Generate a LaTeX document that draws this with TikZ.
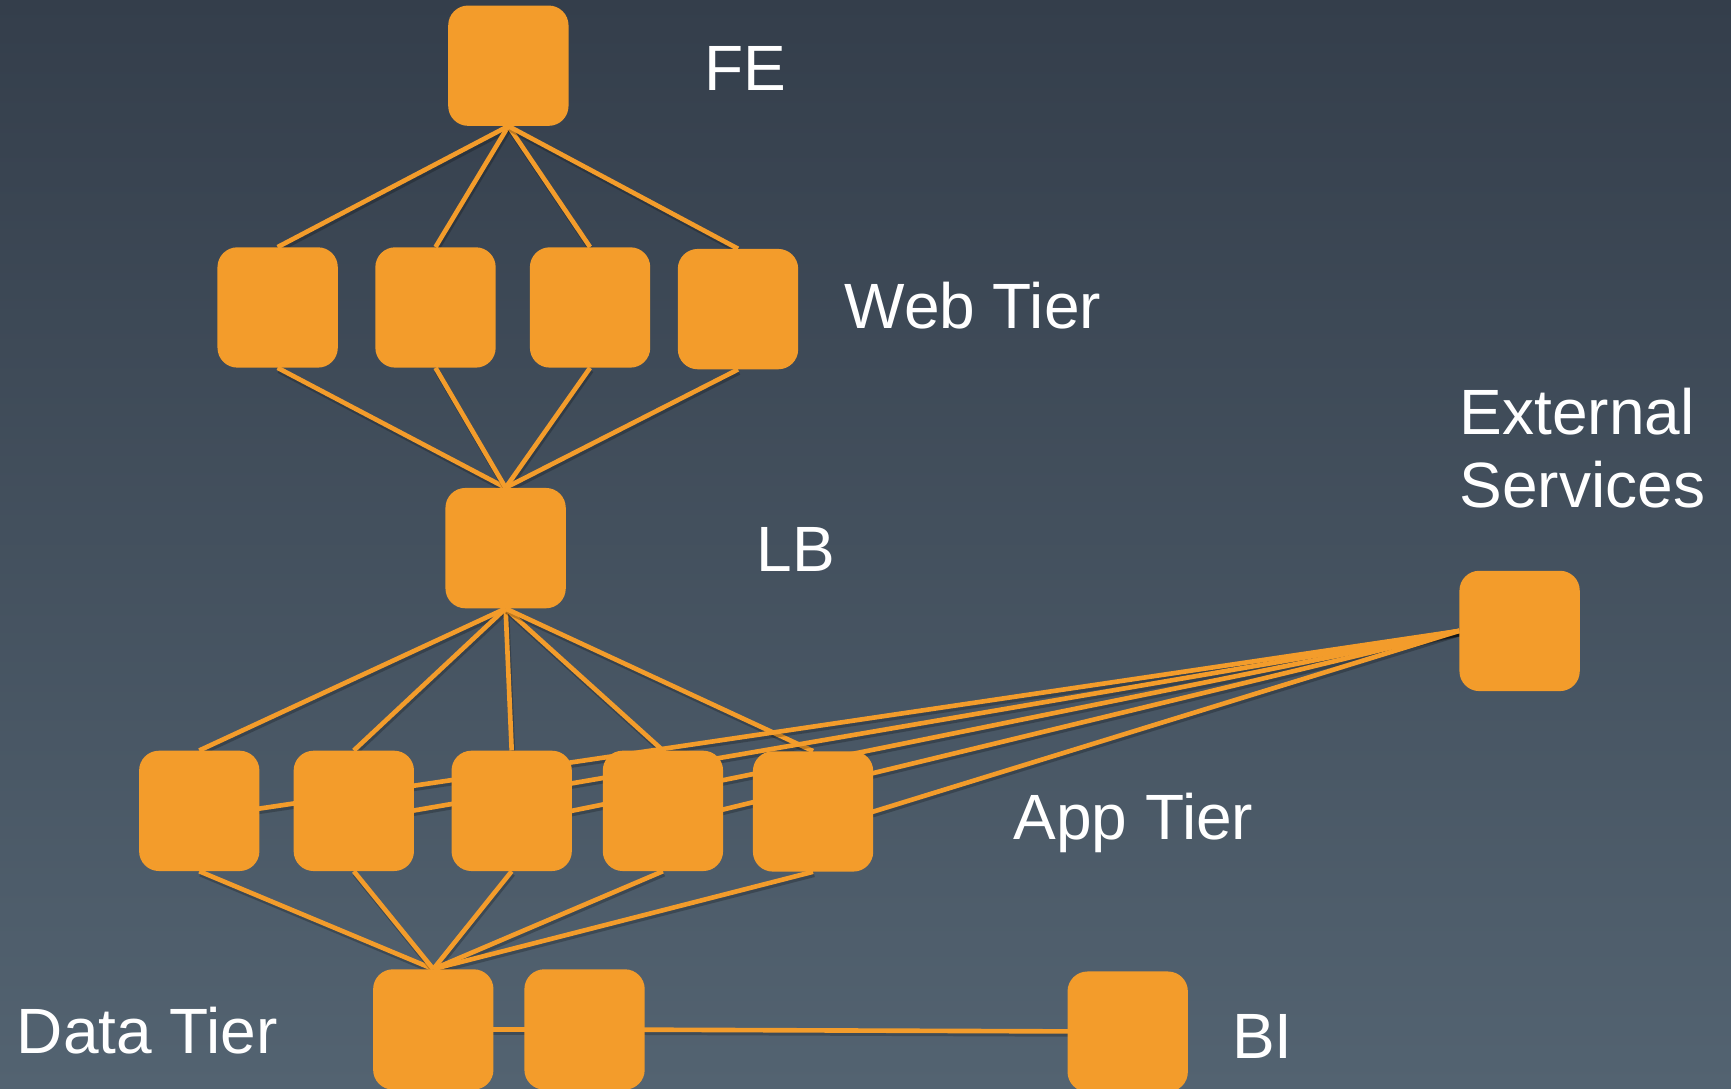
\documentclass[tikz,border=0pt]{standalone}
\usepackage{fontspec}
\setmainfont{Liberation Sans}
\usetikzlibrary{calc}
\definecolor{bgtop}{HTML}{343E4B}
\definecolor{bgbot}{HTML}{536371}
\definecolor{boxor}{HTML}{F39C2B}
\pgfdeclarelayer{bglayer}
\pgfdeclarelayer{linelayer}
\pgfsetlayers{bglayer,linelayer,main}
\begin{document}
\begin{tikzpicture}[x=1pt,y=-1pt,
  tbox/.style={rectangle, rounded corners=18pt, minimum width=109pt, minimum height=109pt, inner sep=0pt, fill=boxor, draw=none},
  link/.style={draw=boxor, line width=4.2pt,
    preaction={draw=black, opacity=0.22, line width=4.6pt, transform canvas={shift={(1pt,-2.5pt)}}}},
  lbl/.style={anchor=base west, inner sep=0pt, text=white, font=\fontsize{58}{66}\selectfont}]
\useasboundingbox (0,0) rectangle (1568,986);
\clip (0,0) rectangle (1568,986);
\begin{pgfonlayer}{bglayer}
\shade[top color=bgtop, bottom color=bgbot] (0,0) rectangle (1568,986);
\end{pgfonlayer}

% boxes
\node[tbox] (fe) at (460.5,59.5) {};
\node[tbox] (w1) at (251.5,278.5) {};
\node[tbox] (w2) at (394.5,278.5) {};
\node[tbox] (w3) at (534.5,278.5) {};
\node[tbox] (w4) at (668.5,280) {};
\node[tbox] (lb) at (458,496.5) {};
\node[tbox] (ext) at (1376.5,571.5) {};
\node[tbox] (a1) at (180.5,734.5) {};
\node[tbox] (a2) at (320.5,734.5) {};
\node[tbox] (a3) at (463.5,734.5) {};
\node[tbox] (a4) at (600.5,734.5) {};
\node[tbox] (a5) at (736.5,735) {};
\node[tbox] (d1) at (392.5,932.5) {};
\node[tbox] (d2) at (529.5,932.5) {};
\node[tbox] (bi) at (1021.5,934.5) {};

% labels
\node[lbl] (tfe) at (638,82) {FE};
\node[lbl] (tweb) at (765,298) {Web Tier};
\node[lbl] (text1) at (1322,394) {External};
\node[lbl] (text2) at (1322,460) {Services};
\node[lbl] (tlb) at (685,518) {LB};
\node[lbl] (tapp) at (918,760) {App Tier};
\node[lbl] (tdata) at (15,954) {Data Tier};
\node[lbl] (tbi) at (1116,959) {BI};

% connectors
\begin{pgfonlayer}{linelayer}
\foreach \w in {w1,w2,w3,w4} {
  \draw[link] (fe.south) -- (\w.north);
  \draw[link] (\w.south) -- (lb.north);
}
\foreach \a in {a1,a2,a3,a4,a5} {
  \draw[link] (lb.south) -- (\a.north);
  \draw[link] (\a.south) -- (d1.north);
}
\draw[link] (ext.west) -- ($(a1.center)+(0,6)$);
\draw[link] (ext.west) -- ($(a2.center)+(0,9)$);
\draw[link] (ext.west) -- ($(a3.center)+(0,11)$);
\draw[link] (ext.west) -- ($(a4.center)+(0,12)$);
\draw[link] (ext.west) -- ($(a5.center)+(0,17)$);
\draw[link] (d1.center) -- (d2.center);
\draw[link] (d2.center) -- (bi.center);
\end{pgfonlayer}
\end{tikzpicture}
\end{document}
